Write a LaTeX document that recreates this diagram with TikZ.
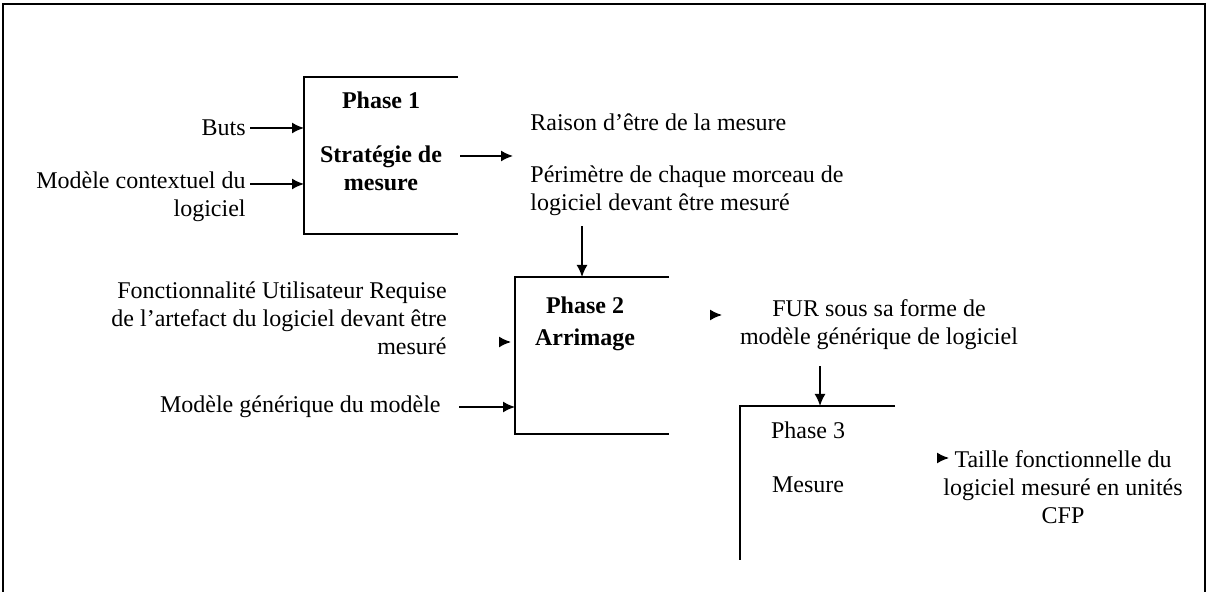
\documentclass[tikz,border=0pt]{standalone}
\usepackage{fontspec}
\setmainfont{Liberation Serif}
\usetikzlibrary{arrows.meta}
\tikzset{t/.style={font=\fontsize{12}{14}\selectfont, inner sep=0pt}}
\tikzset{b/.style={font=\fontsize{12}{14}\selectfont\bfseries, inner sep=0pt}}
\tikzset{box/.style={line width=1pt}}
\tikzset{fl/.style={->, line width=0.8pt}}

\begin{document}
\begin{tikzpicture}[x=0.5pt,y=-0.5pt,>={Latex[length=6pt,width=5.5pt]}]
          \useasboundingbox (0,0) rectangle (1208,592);
          \draw[line width=1.4pt] (3,592) -- (3,4) -- (1205,4) -- (1205,592);
          % phase boxes, open on the right
          \draw[box] (458,77) -- (304,77) -- (304,234) -- (458,234);
          \draw[box] (669,277) -- (515,277) -- (515,434) -- (669,434);
          \draw[box] (895,406) -- (740,406) -- (740,560);
          \coordinate (in1a) at (304,128);
          \coordinate (in1b) at (304,184);
          \coordinate (out1a) at (460,156);
          \coordinate (out1b) at (513,156);
          \coordinate (in2top) at (582,277);
          \coordinate (in2a) at (511,342);
          \coordinate (in2b) at (515,407);
          \coordinate (out2) at (722,315);
          \coordinate (in3top) at (820,406);
          \coordinate (out3) at (949,458);
          % phase 1
          \node[b] (ph1) at (381,100) {Phase 1};
          \node[b, align=center] (strat) at (381,168) {Stratégie de\\mesure};
          \node[t, anchor=east] (buts) at (246,128) {Buts};
          \node[t, align=right, anchor=east] (ctx) at (246,197) {Modèle contextuel du\\logiciel};
          \draw[fl] ([xshift=2pt]buts.east) -- (in1a);
          \draw[fl] ([xshift=2pt]ctx.east |- in1b) -- (in1b);
          \draw[fl] (out1a) -- (out1b);
          \node[t, anchor=west] (raison) at (530,122) {Raison d'être de la mesure};
          \node[t, anchor=west, align=left] (perim) at (530,191) {Périmètre de chaque morceau de\\logiciel devant être mesuré};
          \draw[fl] ([yshift=-5pt]perim.south -| in2top) -- (in2top);
          % phase 2
          \node[b] (ph2) at (585,305) {Phase 2};
          \node[b] (arrim) at (585,340) {Arrimage};
          \node[t, align=right, anchor=east] (fur) at (447,318) {Fonctionnalité Utilisateur Requise\\de l'artefact du logiciel devant être\\mesuré};
          \node[t, anchor=east] (gen) at (441,407) {Modèle générique du modèle};
          \draw[fl] ([xshift=-1pt]in2a) -- (in2a);
          \draw[fl] ([xshift=9pt]gen.east) -- (in2b);
          \draw[fl] ([xshift=-1pt]out2) -- (out2);
          \node[t, align=center] (furgen) at (879,325) {FUR sous sa forme de\\modèle générique de logiciel};
          \draw[fl] ([yshift=-8pt]furgen.south -| in3top) -- (in3top);
          % phase 3
          \node[t] (ph3) at (808,430) {Phase 3};
          \node[t] (mes) at (808,485) {Mesure};
          \draw[fl] ([xshift=-1pt]out3) -- (out3);
          \node[t, align=center] (taille) at (1063,487) {Taille fonctionnelle du\\logiciel mesuré en unités\\CFP};
        \end{tikzpicture}
\end{document}
